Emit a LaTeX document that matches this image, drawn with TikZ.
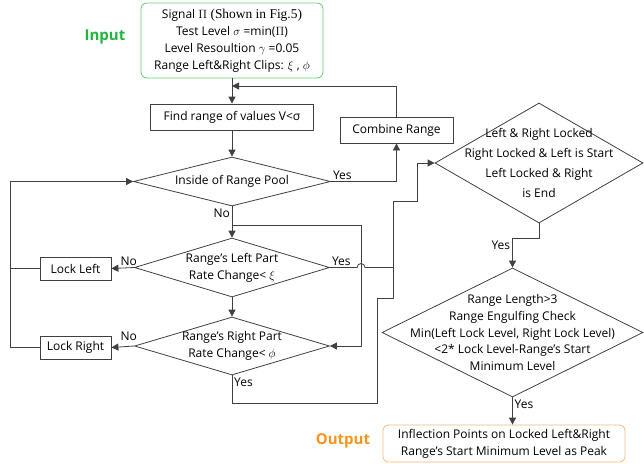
\documentclass[tikz,border=0pt]{standalone}
\usepackage{fontspec}
\setmainfont{Open Sans}
\newfontfamily\serif[Scale=1.12]{Liberation Serif}
\usetikzlibrary{shapes.geometric, arrows.meta, positioning, calc}
\definecolor{ingreen}{RGB}{34,180,60}
\definecolor{inborder}{RGB}{95,205,110}
\definecolor{outorange}{RGB}{247,148,29}
\definecolor{outborder}{RGB}{250,185,120}

\begin{document}
\begin{tikzpicture}[x=1pt, y=-1pt, font=\fontsize{12}{17}\selectfont,
    line/.style={draw=black!75, line width=0.8pt},
    arr/.style={line, -{Triangle[length=7pt,width=7pt]}},
    box/.style={draw=black!75, line width=0.8pt, inner sep=0pt, align=center},
    dia/.style={diamond, draw=black!75, line width=0.8pt, inner sep=0pt},
    txt/.style={align=center, inner sep=0pt},
    lbl/.style={inner sep=2pt},
    io/.style={font=\fontsize{15}{16}\selectfont\bfseries, inner sep=0pt}]
  \useasboundingbox (0,0) rectangle (644,463);

  % main column
  \node[box, rounded corners=6pt, draw=inborder, minimum width=182pt,
        minimum height=75pt] (input) at (232,40.5)
    {Signal {\serif$\Pi$ (Shown in Fig.5)}\\
     Test Level $\sigma$ =min($\Pi$)\\
     Level Resoultion $\gamma$ =0.05\\
     Range Left\&Right Clips: $\xi$ , $\phi$};
  \node[io, text=ingreen] (inlbl) at (105,37) {Input};

  \node[box, minimum width=163pt, minimum height=26pt] (find) at (232,117)
    {Find range of values V<σ};
  \node[box, minimum width=113pt, minimum height=26pt] (combine) at (396.5,130)
    {Combine Range};

  \node[dia, minimum width=197pt, minimum height=49pt] (pool) at (232,181.5) {};
  \node[txt] (poolt) at (pool) {Inside of Range Pool};

  \node[dia, minimum width=195pt, minimum height=59pt] (leftD) at (232,267.5) {};
  \node[txt] (leftt) at (leftD) {Range’s Left Part\\Rate Change< $\xi$};

  \node[dia, minimum width=195pt, minimum height=58pt] (rightD) at (232,346) {};
  \node[txt] (rightt) at (rightD) {Range’s Right Part\\Rate Change< $\phi$};

  \node[box, minimum width=71pt, minimum height=23pt] (lockL) at (75.5,268.5) {Lock Left};
  \node[box, minimum width=71pt, minimum height=23pt] (lockR) at (75.5,347.5) {Lock Right};

  % right column
  \node[dia, minimum width=208pt, minimum height=120pt] (locked) at (539,163) {};
  \node[txt, font=\fontsize{12}{20}\selectfont] (lockedt) at (locked)
    {Left \& Right Locked\\Right Locked \& Left is Start\\Left Locked \& Right\\is End};

  \node[dia, minimum width=261pt, minimum height=129pt] (big) at (512.5,332.5) {};
  \node[txt, font=\fontsize{12}{16.7}\selectfont] (bigt) at (big)
    {Range Length>3\\Range Engulfing Check\\Min(Left Lock Level, Right Lock Level)\\
     <2* Lock Level-Range’s Start\\Minimum Level};

  \node[box, rounded corners=5pt, draw=outborder, minimum width=242pt,
        minimum height=37pt] (output) at (504,443.5)
    {Inflection Points on Locked Left\&Right\\Range’s Start Minimum Level as Peak};
  \node[io, text=outorange] (outlbl) at (343,441) {Output};

  % bends
  \coordinate (join) at (232,86);
  \coordinate (split) at (232,225);
  \coordinate (bendR) at (361,225);
  \coordinate (rail) at (10,0);
  \coordinate (yes1) at (232,403);
  \coordinate (yes2) at (377,403);
  \coordinate (yes3) at (377,298);
  \coordinate (yes4) at (393,298);
  \coordinate (yes5) at (393,201);
  \coordinate (yes6) at (417,201);
  \coordinate (jog) at (539,238);

  % edges
  \draw[arr] (input.south) -- (find.north);
  \draw[arr] (combine.north) |- (join);
  \draw[arr] (find.south) -- (pool.north);
  \draw[arr] (pool.east) -| (combine.south);
  \node[lbl, above right] (yesA) at (pool.east) {Yes};
  \draw[arr] (pool.south) -- (leftD.north);
  \node[lbl, below left] (noA) at (pool.south) {No};
  \draw[arr] (split) -- (bendR) |- (rightD.east);
  \draw[arr] (leftD.south) -- (rightD.north);

  \draw[arr] (leftD.west) -- (lockL.east);
  \node[lbl, above left, xshift=5pt] (noB) at (leftD.west) {No};
  \draw[arr] (rightD.west) -- (lockR.east);
  \node[lbl, above left, xshift=5pt, yshift=3pt] (noC) at (rightD.west) {No};
  \draw[line] (lockL.west) -- (lockL.west -| rail);
  \draw[arr] (lockR.west) -- (lockR.west -| rail) |- (pool.west);

  % yes lanes to the right column (hop over the lane at x=361)
  \draw[line] (leftD.east) -- ([xshift=-4pt]leftD.east -| bendR)
    arc (180:360:4) -- (leftD.east -| yes4);
  \node[lbl, above right] (yesB) at (leftD.east) {Yes};
  \draw[arr] (rightD.south) -- (yes1) -- (yes2) -- (yes3) -- (yes4)
    -- (yes5) -- (yes6) |- (locked.west);
  \node[lbl, below right] (yesC) at (rightD.south) {Yes};

  \draw[arr] (locked.south) -- (jog) -| node[lbl, pos=0.62, left] (yesD) {Yes} (big.north);
  \draw[arr] (big.south) -- (big.south |- output.north);
  \node[lbl, below right] (yesE) at (big.south) {Yes};
\end{tikzpicture}
\end{document}
